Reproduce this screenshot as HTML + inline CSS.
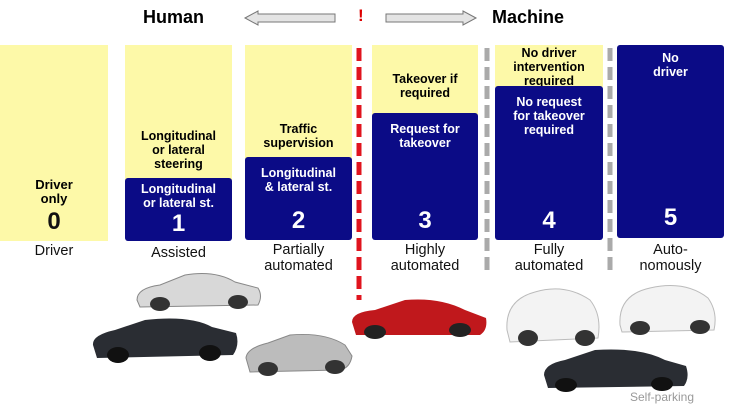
<!DOCTYPE html>
<html><head><style>
body{margin:0;width:750px;height:413px;background:#fff;position:relative;overflow:hidden;font-family:"Liberation Sans",Arial,sans-serif}
.a{position:absolute}
.y{background:#fdf9a8}
.b{background:#0b0b86;border-radius:3px;color:#fff}
.t{font-weight:bold;font-size:12.5px;line-height:14px;text-align:center;position:absolute;left:0;right:0}
.n{font-weight:bold;font-size:24px;text-align:center;position:absolute;left:0;right:0}
.l{position:absolute;text-align:center;font-size:14.5px;line-height:16px;color:#111}
</style></head><body>
<div class="a" style="left:143px;top:7px;font-weight:bold;font-size:18px">Human</div>
<div class="a" style="left:492px;top:7px;font-weight:bold;font-size:18px">Machine</div>
<div class="a" style="left:358px;top:6px;font-weight:bold;font-size:17px;color:#d00">!</div>
<svg class="a" style="left:0;top:0" width="750" height="413">
<polygon points="245,18 258,11 258,14 335,14 335,22 258,22 258,25" fill="#e4e4e4" stroke="#777"/>
<polygon points="476,18 463,11 463,14 386,14 386,22 463,22 463,25" fill="#e4e4e4" stroke="#777"/>
<line x1="359" y1="48" x2="359" y2="300" stroke="#e0141e" stroke-width="5" stroke-dasharray="13,6"/>
<line x1="487" y1="48" x2="487" y2="275" stroke="#aaa" stroke-width="5" stroke-dasharray="13,6"/>
<line x1="610" y1="48" x2="610" y2="275" stroke="#aaa" stroke-width="5" stroke-dasharray="13,6"/>
<!-- cars -->
<g>
<path d="M137,300 Q137,288 160,285 L185,275 Q215,270 235,282 L258,288 Q263,296 258,305 L140,307 Z" fill="#d8d8d8" stroke="#888"/>
<ellipse cx="160" cy="304" rx="10" ry="7" fill="#333"/><ellipse cx="238" cy="302" rx="10" ry="7" fill="#333"/>
<path d="M93,345 Q92,335 115,330 L145,320 Q190,315 212,327 L236,333 Q240,345 233,355 L97,358 Z" fill="#2a2d33"/>
<ellipse cx="118" cy="355" rx="11" ry="8" fill="#111"/><ellipse cx="210" cy="353" rx="11" ry="8" fill="#111"/>
<path d="M246,358 Q247,348 268,343 L290,335 Q325,332 345,345 L352,356 Q350,368 340,370 L250,372 Z" fill="#bcbcbc" stroke="#888"/>
<ellipse cx="268" cy="369" rx="10" ry="7" fill="#333"/><ellipse cx="335" cy="367" rx="10" ry="7" fill="#333"/>
<path d="M352,322 Q352,312 375,310 L405,300 Q440,297 465,310 L486,318 Q488,330 480,335 L356,335 Z" fill="#c0181c"/>
<ellipse cx="375" cy="332" rx="11" ry="7" fill="#222"/><ellipse cx="460" cy="330" rx="11" ry="7" fill="#222"/>
<path d="M507,330 Q505,300 535,292 Q565,283 590,300 Q602,315 598,338 L510,342 Z" fill="#f3f3f3" stroke="#bbb"/>
<ellipse cx="528" cy="338" rx="10" ry="8" fill="#333"/><ellipse cx="585" cy="338" rx="10" ry="8" fill="#333"/>
<path d="M620,325 Q618,295 650,288 Q685,280 708,298 Q718,312 714,330 L622,332 Z" fill="#f3f3f3" stroke="#bbb"/>
<ellipse cx="640" cy="328" rx="10" ry="7" fill="#333"/><ellipse cx="700" cy="327" rx="10" ry="7" fill="#333"/>
<path d="M544,375 Q544,364 565,360 L595,350 Q640,347 665,360 L686,366 Q690,378 684,386 L548,388 Z" fill="#2a2d33"/>
<ellipse cx="566" cy="385" rx="11" ry="7" fill="#111"/><ellipse cx="662" cy="384" rx="11" ry="7" fill="#111"/>
</g>
</svg>
<div class="a y" style="left:0;top:45px;width:108px;height:196px">
<div class="t" style="top:133px;font-size:13px">Driver<br>only</div><div class="n" style="top:163px;color:#111">0</div></div>
<div class="a y" style="left:125px;top:45px;width:107px;height:135px">
<div class="t" style="top:84px">Longitudinal<br>or lateral<br>steering</div></div>
<div class="a b" style="left:125px;top:178px;width:107px;height:63px">
<div class="t" style="top:4px">Longitudinal<br>or lateral st.</div><div class="n" style="top:32px">1</div></div>
<div class="a y" style="left:245px;top:45px;width:107px;height:114px">
<div class="t" style="top:77px">Traffic<br>supervision</div></div>
<div class="a b" style="left:245px;top:157px;width:107px;height:83px">
<div class="t" style="top:9px">Longitudinal<br>&amp; lateral st.</div><div class="n" style="top:50px">2</div></div>
<div class="a y" style="left:372px;top:45px;width:106px;height:70px">
<div class="t" style="top:27px">Takeover if<br>required</div></div>
<div class="a b" style="left:372px;top:113px;width:106px;height:127px">
<div class="t" style="top:9px">Request for<br>takeover</div><div class="n" style="top:94px">3</div></div>
<div class="a y" style="left:495px;top:45px;width:108px;height:42px;overflow:hidden">
<div class="t" style="top:1px">No driver<br>intervention<br>required</div></div>
<div class="a b" style="left:495px;top:86px;width:108px;height:154px">
<div class="t" style="top:9px">No request<br>for takeover<br>required</div><div class="n" style="top:121px">4</div></div>
<div class="a b" style="left:617px;top:45px;width:107px;height:193px">
<div class="t" style="top:6px">No<br>driver</div><div class="n" style="top:159px">5</div></div>
<div class="l" style="left:0;width:108px;top:243px">Driver</div>
<div class="l" style="left:125px;width:107px;top:245px">Assisted</div>
<div class="l" style="left:245px;width:107px;top:242px">Partially<br>automated</div>
<div class="l" style="left:372px;width:106px;top:242px">Highly<br>automated</div>
<div class="l" style="left:495px;width:108px;top:242px">Fully<br>automated</div>
<div class="l" style="left:617px;width:107px;top:242px">Auto-<br>nomously</div>
<div class="a" style="left:630px;top:390px;font-size:12px;color:#999">Self-parking</div>
</body></html>
